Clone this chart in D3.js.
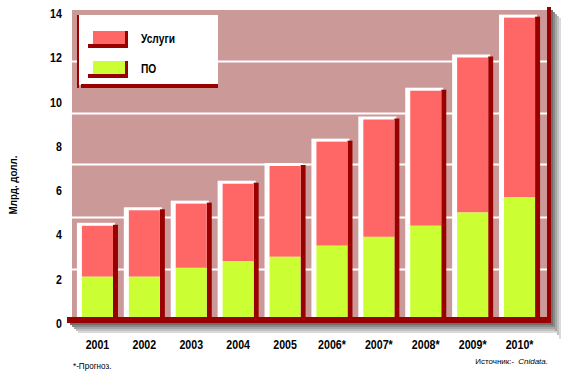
<!DOCTYPE html>
<html><head><meta charset="utf-8">
<script src="https://cdn.jsdelivr.net/npm/d3@7"></script>
<style>
html,body{margin:0;padding:0;background:#fff;}
svg{display:block;}
text{font-family:"Liberation Sans",Arial,sans-serif;}
</style></head>
<body><svg id="chart" width="570" height="372"></svg>
<script>
// ---- data ----
const years = ["2001","2002","2003","2004","2005","2006*","2007*","2008*","2009*","2010*"];
const po     = [2.0, 2.0, 2.4, 2.7, 2.9, 3.4, 3.8, 4.3, 4.9, 5.6];   // ПО
const uslugi = [2.3, 3.0, 2.9, 3.5, 4.1, 4.7, 5.3, 6.1, 7.0, 8.1];   // Услуги
const yTicks = [0, 2, 4, 6, 8, 10, 12, 14];
const gridValues = [2.35, 4.7, 7.1, 9.4, 11.75];
const seriesNames = ["Услуги", "ПО"];
const yTitle = "Млрд. долл.";
const footnote = "*-Прогноз.";
const sourceLabel = "Источник:-";
const sourceName = "Cnidata.";

// ---- styles ----
const C = {bg:"#CC9999", red:"#FF6666", green:"#CCFF33", dark:"#990000", white:"#FFFFFF", text:"#000"};

const svg = d3.select("#chart");
const x = d3.scaleBand().domain(years).range([74, 543]).paddingInner(0.125).paddingOuter(0.0625);
const y = d3.scaleLinear().domain([0, 14]).range([321, 11]);

const plotL = 72, plotR = 547, plotT = 10, base = y(0);

// squeeze text horizontally to mimic a narrow typeface
function condense(sel, f) {
  sel.each(function() {
    const len = this.getComputedTextLength();
    d3.select(this).attr("textLength", (len * f).toFixed(1)).attr("lengthAdjust", "spacingAndGlyphs");
  });
}

// shadows (bottom + right)
const shadowCols = ["#6f6f6f","#8a8a8a","#a5a5a5","#c0c0c0","#dadada"];
shadowCols.slice().reverse().forEach((c, j) => {
  const i = shadowCols.length - 1 - j;
  svg.append("rect").attr("x", 70 + i*2).attr("y", base + 2 + i*2)
    .attr("width", 481 + 2).attr("height", 2).attr("fill", c);
  svg.append("rect").attr("x", 551 + i*2).attr("y", plotT + i*2)
    .attr("width", 2).attr("height", base + 2 - plotT + i*2).attr("fill", c);
});

// plot background
svg.append("rect").attr("x", plotL).attr("y", plotT)
  .attr("width", plotR - plotL).attr("height", base - plotT).attr("fill", C.bg);

// gridlines
svg.append("g").selectAll("line").data(gridValues).join("line")
  .attr("x1", plotL).attr("x2", plotR)
  .attr("y1", d => Math.round(y(d)) + 0.5).attr("y2", d => Math.round(y(d)) + 0.5)
  .attr("stroke", C.white).attr("stroke-width", 2);

// bars
const data = years.map((yr, i) => ({yr, po: po[i], us: uslugi[i], total: po[i] + uslugi[i]}));
const bw = x.bandwidth();
const g = svg.append("g");
const bars = g.selectAll("g.bar").data(data).join("g").attr("class", "bar");
bars.append("rect").attr("x", d => x(d.yr)).attr("y", d => y(d.total) - 3)
  .attr("width", bw - 3).attr("height", d => base - y(d.total) + 3).attr("fill", C.white);
bars.append("rect").attr("x", d => x(d.yr) + bw - 5).attr("y", d => y(d.total) - 1)
  .attr("width", 5).attr("height", d => base - y(d.total) + 1).attr("fill", C.dark);
bars.append("rect").attr("x", d => x(d.yr) + 5).attr("y", d => y(d.total))
  .attr("width", bw - 10).attr("height", d => y(d.po) - y(d.total)).attr("fill", C.red);
bars.append("rect").attr("x", d => x(d.yr) + 5).attr("y", d => y(d.po))
  .attr("width", bw - 10).attr("height", d => base - y(d.po)).attr("fill", C.green);

// base line and right line
svg.append("rect").attr("x", 67).attr("y", base - 4).attr("width", 551 - 67).attr("height", 6).attr("fill", C.dark);
svg.append("rect").attr("x", 547).attr("y", 7).attr("width", 4).attr("height", base + 2 - 7).attr("fill", C.dark);

// y axis
const yAxis = svg.append("g").attr("transform", "translate(65,0)")
  .call(d3.axisLeft(y).tickValues(yTicks).tickSize(0).tickPadding(3).tickFormat(d3.format("d")));
yAxis.select(".domain").remove();
yAxis.selectAll("text").attr("dy", "6.5").attr("font-size", 13).attr("font-weight", "bold")
  .attr("fill", C.text).style("font-family", null);
condense(yAxis.selectAll("text"), 0.82);

// x axis
const xAxis = svg.append("g").attr("transform", "translate(0,349)")
  .call(d3.axisBottom(x).tickSize(0).tickPadding(0));
xAxis.select(".domain").remove();
xAxis.selectAll("text").attr("y", 0).attr("dy", 0).attr("font-size", 12.5).attr("font-weight", "bold")
  .attr("fill", C.text).style("font-family", null);
condense(xAxis.selectAll("text"), 0.85);

// y title
const yt = svg.append("text").attr("transform", "translate(17,185) rotate(-90)")
  .attr("text-anchor", "middle").attr("font-size", 11.5).attr("font-weight", "bold").text(yTitle);
condense(yt, 0.85);

// legend
const lg = svg.append("g");
lg.append("rect").attr("x", 79).attr("y", 15).attr("width", 139).attr("height", 70).attr("fill", C.white);
lg.append("rect").attr("x", 77).attr("y", 15).attr("width", 2).attr("height", 73).attr("fill", C.dark);
lg.append("rect").attr("x", 81).attr("y", 84).attr("width", 137).attr("height", 4).attr("fill", C.dark);
const legCols = [C.red, C.green];
const legY = [31, 61];
seriesNames.forEach((name, i) => {
  lg.append("rect").attr("x", 88).attr("y", legY[i] + 13).attr("width", 40).attr("height", 4).attr("fill", C.dark);
  lg.append("rect").attr("x", 125).attr("y", legY[i]).attr("width", 3).attr("height", 17).attr("fill", C.dark);
  lg.append("rect").attr("x", 93).attr("y", legY[i]).attr("width", 32).attr("height", 13).attr("fill", legCols[i]);
  const t = lg.append("text").attr("x", 141).attr("y", legY[i] + 12).attr("font-size", 12).attr("font-weight", "bold").text(name);
  condense(t, 0.85);
});

// footnote and source
const fn = svg.append("text").attr("x", 73).attr("y", 369).attr("font-size", 9.5).text(footnote);
condense(fn, 0.85);
const srcName = svg.append("text").attr("x", 548).attr("y", 364).attr("text-anchor", "end")
  .attr("font-size", 8).attr("font-style", "italic").text(sourceName);
const nameW = srcName.node().getComputedTextLength();
svg.append("text").attr("x", 548 - nameW - 4).attr("y", 364).attr("text-anchor", "end")
  .attr("font-size", 8).text(sourceLabel);
</script></body></html>
